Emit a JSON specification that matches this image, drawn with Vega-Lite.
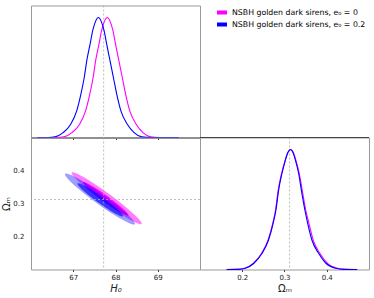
{
 "$schema": "https://vega.github.io/schema/vega-lite/v6.json",
 "padding": {"left": 1, "top": 4.5, "right": 0, "bottom": 0},
 "columns": 2,
 "spacing": 0,
 "bounds": "flush",
 "config": {
  "font": "DejaVu Sans",
  "view": {"stroke": "#999", "strokeWidth": 1},
  "axis": {"grid": false, "domain": false, "tickColor": "#444", "tickSize": 2, "labelFontSize": 7, "labelColor": "#222", "titleFontSize": 10, "titleFontWeight": "normal", "titleColor": "#222", "labelPadding": 2, "titlePadding": 3}
 },
 "datasets": {
  "h0": [
   {"s": "NSBH golden dark sirens, e₀ = 0", "H0": 66.15, "p": 0},
   {"s": "NSBH golden dark sirens, e₀ = 0", "H0": 66.6, "p": 0},
   {"s": "NSBH golden dark sirens, e₀ = 0", "H0": 66.78, "p": 0.005},
   {"s": "NSBH golden dark sirens, e₀ = 0", "H0": 66.97, "p": 0.04},
   {"s": "NSBH golden dark sirens, e₀ = 0", "H0": 67.15, "p": 0.11},
   {"s": "NSBH golden dark sirens, e₀ = 0", "H0": 67.29, "p": 0.22},
   {"s": "NSBH golden dark sirens, e₀ = 0", "H0": 67.39, "p": 0.36},
   {"s": "NSBH golden dark sirens, e₀ = 0", "H0": 67.47, "p": 0.5},
   {"s": "NSBH golden dark sirens, e₀ = 0", "H0": 67.53, "p": 0.64},
   {"s": "NSBH golden dark sirens, e₀ = 0", "H0": 67.61, "p": 0.78},
   {"s": "NSBH golden dark sirens, e₀ = 0", "H0": 67.67, "p": 0.89},
   {"s": "NSBH golden dark sirens, e₀ = 0", "H0": 67.74, "p": 0.97},
   {"s": "NSBH golden dark sirens, e₀ = 0", "H0": 67.806, "p": 1},
   {"s": "NSBH golden dark sirens, e₀ = 0", "H0": 67.87, "p": 0.97},
   {"s": "NSBH golden dark sirens, e₀ = 0", "H0": 67.94, "p": 0.89},
   {"s": "NSBH golden dark sirens, e₀ = 0", "H0": 68.0, "p": 0.78},
   {"s": "NSBH golden dark sirens, e₀ = 0", "H0": 68.08, "p": 0.64},
   {"s": "NSBH golden dark sirens, e₀ = 0", "H0": 68.16, "p": 0.5},
   {"s": "NSBH golden dark sirens, e₀ = 0", "H0": 68.24, "p": 0.36},
   {"s": "NSBH golden dark sirens, e₀ = 0", "H0": 68.34, "p": 0.22},
   {"s": "NSBH golden dark sirens, e₀ = 0", "H0": 68.49, "p": 0.11},
   {"s": "NSBH golden dark sirens, e₀ = 0", "H0": 68.65, "p": 0.04},
   {"s": "NSBH golden dark sirens, e₀ = 0", "H0": 68.83, "p": 0.005},
   {"s": "NSBH golden dark sirens, e₀ = 0", "H0": 69.05, "p": 0},
   {"s": "NSBH golden dark sirens, e₀ = 0", "H0": 69.5, "p": 0},
   {"s": "NSBH golden dark sirens, e₀ = 0.2", "H0": 66.15, "p": 0},
   {"s": "NSBH golden dark sirens, e₀ = 0.2", "H0": 66.4, "p": 0},
   {"s": "NSBH golden dark sirens, e₀ = 0.2", "H0": 66.57, "p": 0.005},
   {"s": "NSBH golden dark sirens, e₀ = 0.2", "H0": 66.76, "p": 0.04},
   {"s": "NSBH golden dark sirens, e₀ = 0.2", "H0": 66.94, "p": 0.11},
   {"s": "NSBH golden dark sirens, e₀ = 0.2", "H0": 67.08, "p": 0.22},
   {"s": "NSBH golden dark sirens, e₀ = 0.2", "H0": 67.18, "p": 0.36},
   {"s": "NSBH golden dark sirens, e₀ = 0.2", "H0": 67.26, "p": 0.5},
   {"s": "NSBH golden dark sirens, e₀ = 0.2", "H0": 67.32, "p": 0.64},
   {"s": "NSBH golden dark sirens, e₀ = 0.2", "H0": 67.4, "p": 0.78},
   {"s": "NSBH golden dark sirens, e₀ = 0.2", "H0": 67.46, "p": 0.89},
   {"s": "NSBH golden dark sirens, e₀ = 0.2", "H0": 67.53, "p": 0.97},
   {"s": "NSBH golden dark sirens, e₀ = 0.2", "H0": 67.593, "p": 1},
   {"s": "NSBH golden dark sirens, e₀ = 0.2", "H0": 67.66, "p": 0.97},
   {"s": "NSBH golden dark sirens, e₀ = 0.2", "H0": 67.73, "p": 0.89},
   {"s": "NSBH golden dark sirens, e₀ = 0.2", "H0": 67.79, "p": 0.78},
   {"s": "NSBH golden dark sirens, e₀ = 0.2", "H0": 67.87, "p": 0.64},
   {"s": "NSBH golden dark sirens, e₀ = 0.2", "H0": 67.95, "p": 0.5},
   {"s": "NSBH golden dark sirens, e₀ = 0.2", "H0": 68.03, "p": 0.36},
   {"s": "NSBH golden dark sirens, e₀ = 0.2", "H0": 68.13, "p": 0.22},
   {"s": "NSBH golden dark sirens, e₀ = 0.2", "H0": 68.28, "p": 0.11},
   {"s": "NSBH golden dark sirens, e₀ = 0.2", "H0": 68.44, "p": 0.04},
   {"s": "NSBH golden dark sirens, e₀ = 0.2", "H0": 68.62, "p": 0.005},
   {"s": "NSBH golden dark sirens, e₀ = 0.2", "H0": 68.85, "p": 0},
   {"s": "NSBH golden dark sirens, e₀ = 0.2", "H0": 69.5, "p": 0}
  ],
  "om": [
   {"s": "NSBH golden dark sirens, e₀ = 0", "Om": 0.163, "p": 0},
   {"s": "NSBH golden dark sirens, e₀ = 0", "Om": 0.19, "p": 0.001},
   {"s": "NSBH golden dark sirens, e₀ = 0", "Om": 0.206, "p": 0.01},
   {"s": "NSBH golden dark sirens, e₀ = 0", "Om": 0.226, "p": 0.05},
   {"s": "NSBH golden dark sirens, e₀ = 0", "Om": 0.2455, "p": 0.133},
   {"s": "NSBH golden dark sirens, e₀ = 0", "Om": 0.261, "p": 0.244},
   {"s": "NSBH golden dark sirens, e₀ = 0", "Om": 0.272, "p": 0.383},
   {"s": "NSBH golden dark sirens, e₀ = 0", "Om": 0.279, "p": 0.5},
   {"s": "NSBH golden dark sirens, e₀ = 0", "Om": 0.285, "p": 0.66},
   {"s": "NSBH golden dark sirens, e₀ = 0", "Om": 0.293, "p": 0.8},
   {"s": "NSBH golden dark sirens, e₀ = 0", "Om": 0.3015, "p": 0.91},
   {"s": "NSBH golden dark sirens, e₀ = 0", "Om": 0.308, "p": 0.975},
   {"s": "NSBH golden dark sirens, e₀ = 0", "Om": 0.3145, "p": 1},
   {"s": "NSBH golden dark sirens, e₀ = 0", "Om": 0.321, "p": 0.975},
   {"s": "NSBH golden dark sirens, e₀ = 0", "Om": 0.327, "p": 0.91},
   {"s": "NSBH golden dark sirens, e₀ = 0", "Om": 0.335, "p": 0.8},
   {"s": "NSBH golden dark sirens, e₀ = 0", "Om": 0.342, "p": 0.66},
   {"s": "NSBH golden dark sirens, e₀ = 0", "Om": 0.35, "p": 0.5},
   {"s": "NSBH golden dark sirens, e₀ = 0", "Om": 0.358, "p": 0.383},
   {"s": "NSBH golden dark sirens, e₀ = 0", "Om": 0.368, "p": 0.244},
   {"s": "NSBH golden dark sirens, e₀ = 0", "Om": 0.384, "p": 0.133},
   {"s": "NSBH golden dark sirens, e₀ = 0", "Om": 0.402, "p": 0.05},
   {"s": "NSBH golden dark sirens, e₀ = 0", "Om": 0.425, "p": 0.01},
   {"s": "NSBH golden dark sirens, e₀ = 0", "Om": 0.445, "p": 0.001},
   {"s": "NSBH golden dark sirens, e₀ = 0", "Om": 0.472, "p": 0},
   {"s": "NSBH golden dark sirens, e₀ = 0.2", "Om": 0.163, "p": 0},
   {"s": "NSBH golden dark sirens, e₀ = 0.2", "Om": 0.19, "p": 0.001},
   {"s": "NSBH golden dark sirens, e₀ = 0.2", "Om": 0.207, "p": 0.01},
   {"s": "NSBH golden dark sirens, e₀ = 0.2", "Om": 0.227, "p": 0.05},
   {"s": "NSBH golden dark sirens, e₀ = 0.2", "Om": 0.2465, "p": 0.133},
   {"s": "NSBH golden dark sirens, e₀ = 0.2", "Om": 0.262, "p": 0.244},
   {"s": "NSBH golden dark sirens, e₀ = 0.2", "Om": 0.273, "p": 0.383},
   {"s": "NSBH golden dark sirens, e₀ = 0.2", "Om": 0.28, "p": 0.5},
   {"s": "NSBH golden dark sirens, e₀ = 0.2", "Om": 0.286, "p": 0.66},
   {"s": "NSBH golden dark sirens, e₀ = 0.2", "Om": 0.294, "p": 0.8},
   {"s": "NSBH golden dark sirens, e₀ = 0.2", "Om": 0.302, "p": 0.91},
   {"s": "NSBH golden dark sirens, e₀ = 0.2", "Om": 0.308, "p": 0.975},
   {"s": "NSBH golden dark sirens, e₀ = 0.2", "Om": 0.314, "p": 1},
   {"s": "NSBH golden dark sirens, e₀ = 0.2", "Om": 0.32, "p": 0.975},
   {"s": "NSBH golden dark sirens, e₀ = 0.2", "Om": 0.326, "p": 0.91},
   {"s": "NSBH golden dark sirens, e₀ = 0.2", "Om": 0.3335, "p": 0.8},
   {"s": "NSBH golden dark sirens, e₀ = 0.2", "Om": 0.34, "p": 0.66},
   {"s": "NSBH golden dark sirens, e₀ = 0.2", "Om": 0.348, "p": 0.5},
   {"s": "NSBH golden dark sirens, e₀ = 0.2", "Om": 0.355, "p": 0.383},
   {"s": "NSBH golden dark sirens, e₀ = 0.2", "Om": 0.365, "p": 0.244},
   {"s": "NSBH golden dark sirens, e₀ = 0.2", "Om": 0.381, "p": 0.133},
   {"s": "NSBH golden dark sirens, e₀ = 0.2", "Om": 0.3986, "p": 0.05},
   {"s": "NSBH golden dark sirens, e₀ = 0.2", "Om": 0.421, "p": 0.01},
   {"s": "NSBH golden dark sirens, e₀ = 0.2", "Om": 0.44, "p": 0.001},
   {"s": "NSBH golden dark sirens, e₀ = 0.2", "Om": 0.472, "p": 0}
  ],
  "ell": [
   {"e": "mo", "i": 0, "H0": 68.618, "Om": 0.238},
   {"e": "mo", "i": 1, "H0": 68.474, "Om": 0.2427},
   {"e": "mo", "i": 2, "H0": 68.146, "Om": 0.2669},
   {"e": "mo", "i": 3, "H0": 67.723, "Om": 0.3043},
   {"e": "mo", "i": 4, "H0": 67.318, "Om": 0.3449},
   {"e": "mo", "i": 5, "H0": 67.04, "Om": 0.3777},
   {"e": "mo", "i": 6, "H0": 66.962, "Om": 0.394},
   {"e": "mo", "i": 7, "H0": 67.107, "Om": 0.3894},
   {"e": "mo", "i": 8, "H0": 67.434, "Om": 0.3651},
   {"e": "mo", "i": 9, "H0": 67.857, "Om": 0.3277},
   {"e": "mo", "i": 10, "H0": 68.262, "Om": 0.2871},
   {"e": "mo", "i": 11, "H0": 68.541, "Om": 0.2544},
   {"e": "mi", "i": 0, "H0": 68.308, "Om": 0.2633},
   {"e": "mi", "i": 1, "H0": 68.214, "Om": 0.2663},
   {"e": "mi", "i": 2, "H0": 68.001, "Om": 0.282},
   {"e": "mi", "i": 3, "H0": 67.726, "Om": 0.3064},
   {"e": "mi", "i": 4, "H0": 67.463, "Om": 0.3328},
   {"e": "mi", "i": 5, "H0": 67.282, "Om": 0.3541},
   {"e": "mi", "i": 6, "H0": 67.232, "Om": 0.3647},
   {"e": "mi", "i": 7, "H0": 67.326, "Om": 0.3617},
   {"e": "mi", "i": 8, "H0": 67.539, "Om": 0.346},
   {"e": "mi", "i": 9, "H0": 67.814, "Om": 0.3216},
   {"e": "mi", "i": 10, "H0": 68.077, "Om": 0.2952},
   {"e": "mi", "i": 11, "H0": 68.258, "Om": 0.2739},
   {"e": "bo", "i": 0, "H0": 68.461, "Om": 0.237},
   {"e": "bo", "i": 1, "H0": 68.314, "Om": 0.241},
   {"e": "bo", "i": 2, "H0": 67.985, "Om": 0.2643},
   {"e": "bo", "i": 3, "H0": 67.561, "Om": 0.3009},
   {"e": "bo", "i": 4, "H0": 67.157, "Om": 0.3409},
   {"e": "bo", "i": 5, "H0": 66.88, "Om": 0.3736},
   {"e": "bo", "i": 6, "H0": 66.805, "Om": 0.3902},
   {"e": "bo", "i": 7, "H0": 66.952, "Om": 0.3863},
   {"e": "bo", "i": 8, "H0": 67.281, "Om": 0.3629},
   {"e": "bo", "i": 9, "H0": 67.705, "Om": 0.3263},
   {"e": "bo", "i": 10, "H0": 68.109, "Om": 0.2863},
   {"e": "bo", "i": 11, "H0": 68.386, "Om": 0.2537},
   {"e": "bi", "i": 0, "H0": 68.178, "Om": 0.2612},
   {"e": "bi", "i": 1, "H0": 68.083, "Om": 0.2637},
   {"e": "bi", "i": 2, "H0": 67.869, "Om": 0.2789},
   {"e": "bi", "i": 3, "H0": 67.593, "Om": 0.3027},
   {"e": "bi", "i": 4, "H0": 67.331, "Om": 0.3287},
   {"e": "bi", "i": 5, "H0": 67.151, "Om": 0.3499},
   {"e": "bi", "i": 6, "H0": 67.102, "Om": 0.3608},
   {"e": "bi", "i": 7, "H0": 67.197, "Om": 0.3583},
   {"e": "bi", "i": 8, "H0": 67.412, "Om": 0.3431},
   {"e": "bi", "i": 9, "H0": 67.687, "Om": 0.3193},
   {"e": "bi", "i": 10, "H0": 67.95, "Om": 0.2933},
   {"e": "bi", "i": 11, "H0": 68.129, "Om": 0.2721}
  ]
 },
 "concat": [
  {
   "width": 169, "height": 132,
   "layer": [
    {
     "data": {"values": [{"H0": 67.72}]},
     "mark": {"type": "rule", "color": "#aaa", "strokeDash": [2, 2], "strokeWidth": 0.8},
     "encoding": {"x": {"field": "H0", "type": "quantitative", "scale": {"domain": [66, 70]}, "axis": {"values": [67, 68, 69], "labels": false, "title": null, "domain": true, "domainColor": "#444"}}}
    },
    {
     "data": {"name": "h0"},
     "mark": {"type": "line", "interpolate": "monotone", "strokeWidth": 1.1},
     "encoding": {
      "x": {"field": "H0", "type": "quantitative"},
      "y": {"field": "p", "type": "quantitative", "scale": {"domain": [0, 1.1]}, "axis": null},
      "color": {"field": "s", "type": "nominal", "scale": {"domain": ["NSBH golden dark sirens, e₀ = 0", "NSBH golden dark sirens, e₀ = 0.2"], "range": ["#ff00ff", "#0000ff"]},
       "legend": {"orient": "none", "legendX": 186, "legendY": 2, "title": null, "symbolType": "M-1,-0.4H1V0.4H-1Z", "symbolSize": 100, "labelFontSize": 7.8, "labelColor": "#000", "labelOffset": 5, "rowPadding": 3, "symbolStrokeWidth": 0, "labelLimit": 300,
        "encode": {"symbols": {"update": {"fill": {"scale": "color", "field": "value"}, "fillOpacity": {"value": 1}}}}}}
     }
    }
   ]
  },
  {
   "width": 169, "height": 132,
   "view": {"stroke": null},
   "data": {"values": [{"a": 1}]},
   "mark": {"type": "text", "text": ""}
  },
  {
   "width": 169, "height": 132,
   "data": {"name": "ell"},
   "layer": [
    {
     "transform": [{"filter": "datum.e == 'mo'"}],
     "mark": {"type": "line", "interpolate": "cardinal-closed", "fill": "#ff7cff", "strokeWidth": 0},
     "encoding": {
      "x": {"field": "H0", "type": "quantitative", "scale": {"domain": [66, 70]}, "axis": {"values": [67, 68, 69], "title": "H₀", "titleFontStyle": "italic"}},
      "y": {"field": "Om", "type": "quantitative", "scale": {"domain": [0.1, 0.5]}, "axis": {"values": [0.2, 0.3, 0.4], "format": ".1f", "title": "Ωₘ", "ticks": false, "tickSize": 0, "labelPadding": 7, "titlePadding": 1}},
      "order": {"field": "i", "type": "quantitative"}
     }
    },
    {
     "transform": [{"filter": "datum.e == 'mi'"}],
     "mark": {"type": "line", "interpolate": "cardinal-closed", "fill": "#ff00ff", "strokeWidth": 0},
     "encoding": {"x": {"field": "H0", "type": "quantitative"}, "y": {"field": "Om", "type": "quantitative"}, "order": {"field": "i", "type": "quantitative"}}
    },
    {
     "transform": [{"filter": "datum.e == 'bo'"}],
     "mark": {"type": "line", "interpolate": "cardinal-closed", "fill": "#0000ff", "fillOpacity": 0.38, "strokeWidth": 0},
     "encoding": {"x": {"field": "H0", "type": "quantitative"}, "y": {"field": "Om", "type": "quantitative"}, "order": {"field": "i", "type": "quantitative"}}
    },
    {
     "transform": [{"filter": "datum.e == 'bi'"}],
     "mark": {"type": "line", "interpolate": "cardinal-closed", "fill": "#0000ff", "fillOpacity": 0.65, "strokeWidth": 0},
     "encoding": {"x": {"field": "H0", "type": "quantitative"}, "y": {"field": "Om", "type": "quantitative"}, "order": {"field": "i", "type": "quantitative"}}
    },
    {
     "data": {"values": [{"H0": 67.72}]},
     "mark": {"type": "rule", "color": "#aaa", "strokeDash": [2, 2], "strokeWidth": 0.8},
     "encoding": {"x": {"field": "H0", "type": "quantitative"}}
    },
    {
     "data": {"values": [{"Om": 0.312}]},
     "mark": {"type": "rule", "color": "#aaa", "strokeDash": [2, 2], "strokeWidth": 0.8},
     "encoding": {"y": {"field": "Om", "type": "quantitative"}}
    }
   ]
  },
  {
   "width": 169, "height": 132,
   "layer": [
    {
     "data": {"values": [{"Om": 0.312}]},
     "mark": {"type": "rule", "color": "#aaa", "strokeDash": [2, 2], "strokeWidth": 0.8},
     "encoding": {"x": {"field": "Om", "type": "quantitative", "scale": {"domain": [0.1, 0.5]}, "axis": {"values": [0.2, 0.3, 0.4], "format": ".1f", "title": "Ωₘ"}}}
    },
    {
     "data": {"name": "om"},
     "mark": {"type": "line", "interpolate": "monotone", "strokeWidth": 1.1},
     "encoding": {
      "x": {"field": "Om", "type": "quantitative"},
      "y": {"field": "p", "type": "quantitative", "scale": {"domain": [0, 1.1]}, "axis": null},
      "color": {"field": "s", "type": "nominal"}
     }
    },
    {
     "data": {"values": [{"a": 1}]},
     "mark": {"type": "rule", "color": "#444", "strokeWidth": 1},
     "encoding": {"y": {"datum": 1.1}}
    }
   ]
  }
 ],
 "resolve": {"scale": {"color": "shared"}}
}
